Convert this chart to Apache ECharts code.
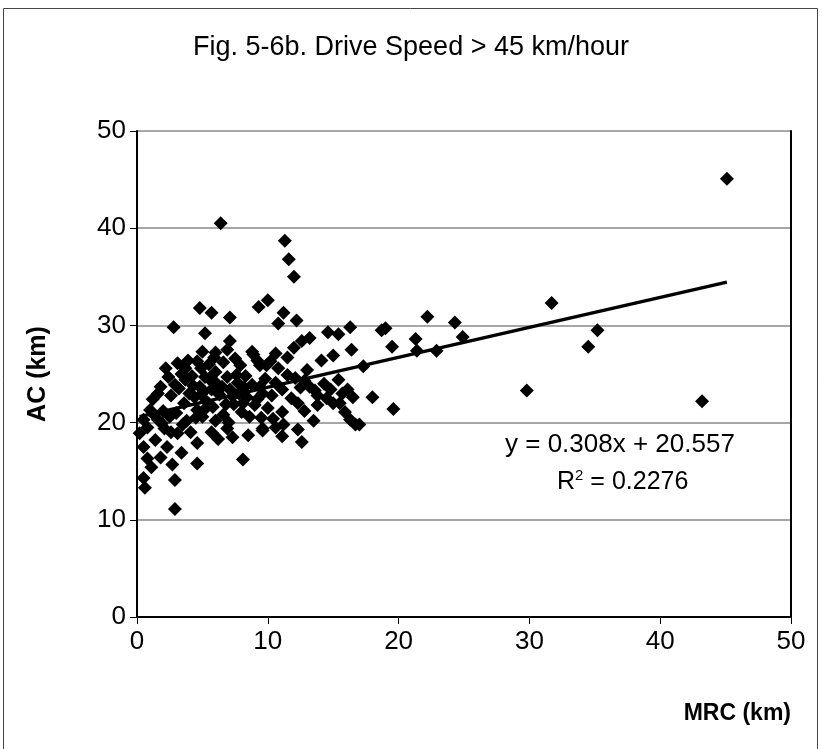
<!DOCTYPE html>
<html><head><meta charset="utf-8">
<script src="https://cdn.jsdelivr.net/npm/echarts@6/dist/echarts.min.js"></script>
<style>html,body{margin:0;padding:0;background:#fff}#c{width:822px;height:749px}</style>
</head><body><div id="c"></div>
<script>
const titleText = "Fig. 5-6b. Drive Speed > 45 km/hour";
const xName = "MRC (km)";
const yName = "AC (km)";
const xTicks = [0,10,20,30,40,50];
const yTicks = [0,10,20,30,40,50];
const slope = 0.308, intercept = 20.557, r2 = "0.2276";
const points = [
[45.1,45.1],[43.2,22.2],[35.2,29.5],[34.5,27.8],[31.7,32.3],[29.8,23.3],[24.3,30.3],[24.9,28.8],[22.2,30.9],[22.9,27.4],
[21.3,28.6],[21.4,27.4],[19.5,27.8],[19.6,21.4],[19.0,29.7],[18.7,29.5],[17.3,25.8],[18.0,22.6],[17.0,19.8],[16.7,19.8],
[16.3,20.3],[15.9,21.1],[12.0,35.0],[11.6,36.8],[11.3,38.7],[6.4,40.5],[10.0,32.6],[9.3,31.9],
[11.2,31.3],[10.8,30.2],[12.2,30.5],[12.6,28.4],[13.2,28.7],[14.6,29.3],[15.4,29.1],[16.3,29.8],[16.4,27.5],[11.5,26.7],
[14.1,26.4],[15.0,26.9],[10.8,25.6],[12.1,24.6],[10.6,24.1],[11.1,23.4],[12.5,23.6],[13.2,23.7],[13.8,22.8],[13.8,21.8],
[14.5,22.5],[15.0,22.0],[15.4,24.4],[15.7,23.0],[16.1,23.4],[16.5,22.6],[15.5,22.0],[12.8,21.2],[11.1,21.1],[11.2,19.8],
[11.1,18.6],[12.6,18.0],[10.6,19.5],[9.6,19.2],[10.0,21.5],[9.4,25.9],[9.4,23.7],
[5.7,31.3],[7.1,30.8],[4.8,31.8],[2.8,29.8],[5.2,29.2],[7.1,28.4],[6.9,27.5],[6.0,27.2],[5.0,27.3],[8.8,27.3],
[7.9,25.9],[9.2,26.4],[9.9,25.9],[6.0,25.2],[5.2,24.7],[6.9,24.7],[7.7,24.1],[3.1,26.1],[3.9,26.4],[2.4,24.7],
[1.8,23.7],[1.6,23.0],[3.7,24.4],[4.8,23.7],[4.6,21.3],[5.7,23.4],[7.1,23.4],[8.4,22.6],[9.6,23.0],
[0.8,19.5],[2.1,19.4],[3.1,18.9],[1.4,18.2],[2.3,17.5],[3.4,16.9],[4.6,17.9],[5.7,19.0],[6.9,19.4],[7.3,18.5],
[4.6,15.8],[8.1,16.2],[9.6,19.4],[1.1,15.4],[0.5,14.3],[0.6,13.3],[2.9,14.1],[2.9,11.1],[0.5,17.5],[0.2,18.9],
[0.5,20.3],[8.9,27.0],
[1.2,22.4],[2.0,21.2],[2.6,22.8],[3.2,23.5],[3.6,22.0],[4.2,24.8],[4.4,22.6],[5.3,22.2],[5.8,21.6],[6.3,22.9],
[6.6,20.8],[7.4,21.9],[8.0,21.1],[8.6,20.6],[9.0,21.8],[6.1,24.0],[4.9,25.6],[3.0,21.0],[1.6,20.3],[2.5,20.6],
[1.0,21.3],[3.8,20.2],[5.0,20.6],[7.8,23.0],[8.3,24.8],[10.3,22.8],[11.8,22.5],[12.3,22.0],[6.6,26.2],[5.5,26.0],
[4.0,23.0],[2.2,25.6],[9.8,24.5],[10.6,27.1],[12.0,27.7],[13.0,25.4],[14.3,24.0],[13.5,20.2],[12.3,19.3],[8.5,18.7],
[7.0,20.0],[6.2,18.3],[4.1,19.0],[1.8,16.4],[0.8,16.3],[2.7,15.7],[4.9,22.9],[3.4,25.0],
[4.3,23.8],[5.1,23.2],[5.5,24.5],[6.5,23.7],[7.3,22.7],[7.6,24.9],[8.2,23.6],[8.8,23.9],[9.2,22.4],[6.8,21.9],
[6.0,20.2],[5.2,21.4],[4.5,20.5],[3.5,19.8],[2.6,19.0],[1.9,19.9],[1.3,20.8],[2.9,23.9],[3.7,25.6],[4.6,26.3],
[5.9,26.7],[7.5,26.6],[8.1,22.0],[9.5,20.5],[10.4,20.4],[11.5,24.9],[12.8,24.3],[13.6,23.3],[14.8,23.4],[10.2,26.3]
];
const trendRange = [0.2, 45.1];

const chart = echarts.init(document.getElementById('c'), null, {renderer:'canvas'});
const font = 'Liberation Sans, Arial, sans-serif';
chart.setOption({
  animation:false,
  backgroundColor:'#fff',
  title:{text:titleText,left:'center',top:29,textStyle:{fontFamily:font,fontSize:27,fontWeight:'normal',color:'#000'}},
  grid:{left:137,right:31,top:131,bottom:132},
  xAxis:{type:'value',min:0,max:50,interval:10,
    name:xName,nameLocation:'end',nameGap:0,
    nameTextStyle:{fontFamily:font,fontSize:23,fontWeight:'bold',color:'#000',align:'right',verticalAlign:'top',padding:[85,0,0,0]},
    axisLine:{lineStyle:{color:'#000',width:2}},
    axisTick:{show:true,inside:false,length:7,lineStyle:{color:'#000'}},
    axisLabel:{fontFamily:font,fontSize:26,color:'#000',margin:12,formatter:v=>xTicks.includes(v)?String(v):''},
    splitLine:{show:false}},
  yAxis:[{type:'value',min:0,max:50,interval:10,
    name:yName,nameLocation:'middle',nameGap:86,nameRotate:90,
    nameTextStyle:{fontFamily:font,fontSize:25,fontWeight:'bold',color:'#000'},
    axisLine:{lineStyle:{color:'#000',width:2}},
    axisTick:{show:true,inside:false,length:7,lineStyle:{color:'#000'}},
    axisLabel:{fontFamily:font,fontSize:26,color:'#000',margin:11,formatter:v=>yTicks.includes(v)?String(v):''},
    splitLine:{show:true,lineStyle:{color:'#888',width:1.5}}},
   {type:'value',min:0,max:50,interval:10,position:'right',
    axisLine:{show:true,lineStyle:{color:'#000',width:2}},axisTick:{show:false},axisLabel:{show:false},splitLine:{show:false}}],
  series:[
    {type:'scatter',data:points,symbol:'diamond',symbolSize:14,itemStyle:{color:'#000',opacity:1},z:3},
    {type:'line',data:trendRange.map(x=>[x,slope*x+intercept]),symbol:'none',lineStyle:{color:'#000',width:3.5},z:4}
  ],
  graphic:[
    {type:'rect',shape:{x:3.5,y:8.5,width:814,height:745},style:{fill:'none',stroke:'#444',lineWidth:1},silent:true},
    {type:'text',left:505,top:432,style:{text:'y = '+slope+'x + '+intercept.toFixed(3),font:'26px '+font,fill:'#000'}},
    {type:'text',left:557,top:468,style:{text:'{a|R}{s|2}{a| = '+r2+'}',font:'25px '+font,fill:'#000',
      rich:{a:{fontFamily:font,fontSize:25,fill:'#000',verticalAlign:'bottom'},s:{fontFamily:font,fontSize:15,fill:'#000',verticalAlign:'top',padding:[0,0,12,0]}}}}
  ]
});
</script></body></html>
